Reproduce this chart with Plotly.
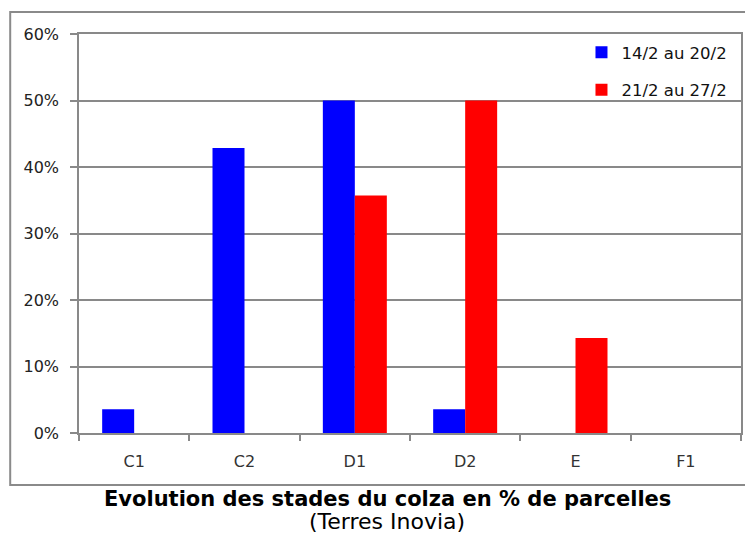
import plotly.graph_objects as go

# Stades du colza et part des parcelles (en fraction)
stades = ['C1', 'C2', 'D1', 'D2', 'E', 'F1']
semaine_1 = [0.0357, 0.4286, 0.50, 0.0357, 0.0, 0.0]   # 14/2 au 20/2
semaine_2 = [0.0, 0.0, 0.3571, 0.50, 0.1429, 0.0]      # 21/2 au 27/2
noms = ['14/2 au 20/2', '21/2 au 27/2']
couleurs = ['#0000FF', '#FF0000']

# the page body adds an 8px margin, so the figure is 8px smaller
OFF = 8
W, H = 753 - OFF, 535 - OFF
L, R, T, B = 71, 10, 26, 102
pw, ph = W - L - R, H - T - B

def px_x(x):
    return (x - OFF - L) / pw

def px_y(y):
    return (H - B - (y - OFF)) / ph

fig = go.Figure()
for i, vals in enumerate([semaine_1, semaine_2]):
    fig.add_trace(go.Bar(
        x=stades, y=vals, name=noms[i],
        marker_color=couleurs[i], marker_line_width=0,
        legendgroup=f'g{i}',
    ))

grid = '#898989'
fig.update_layout(
    width=W, height=H,
    margin=dict(l=L, r=R, t=T, b=B),
    paper_bgcolor='white', plot_bgcolor='white',
    font=dict(family='DejaVu Sans, Verdana, sans-serif', size=16, color='#222'),
    barmode='group', bargap=0.42, bargroupgap=0,
    showlegend=True,
    legend=dict(
        x=px_x(583), y=px_y(35), xanchor='left', yanchor='top',
        bgcolor='rgba(0,0,0,0)', font=dict(size=16.5, color='#111'),
        tracegroupgap=13, traceorder='grouped',
    ),
    xaxis=dict(
        type='category', tickson='boundaries', ticks='outside', ticklen=6,
        tickcolor=grid, tickwidth=1.5,
        showline=True, linecolor=grid, linewidth=1.5, mirror=True,
        showgrid=False, ticklabelstandoff=13,
        tickfont=dict(size=16, color='#333'),
    ),
    yaxis=dict(
        range=[0, 0.6], dtick=0.1, tickformat='.0%',
        ticks='outside', ticklen=7, tickcolor=grid, tickwidth=1.5,
        showline=True, linecolor=grid, linewidth=1.5, mirror=True,
        showgrid=True, gridcolor=grid, gridwidth=1.5, zeroline=False,
        ticklabelstandoff=8,
        tickfont=dict(size=16, color='#222'),
    ),
    shapes=[dict(
        type='rect', xref='paper', yref='paper',
        x0=px_x(10), x1=px_x(760), y0=px_y(485), y1=px_y(12),
        line=dict(color='#8a8a8a', width=2), fillcolor='rgba(0,0,0,0)',
        layer='below',
    )],
    annotations=[
        dict(text='<b>Evolution des stades du colza en % de parcelles</b>',
             xref='paper', yref='paper', x=px_x(388.5), y=px_y(499),
             xanchor='center', yanchor='middle', showarrow=False,
             font=dict(size=21, color='black')),
        dict(text='(Terres Inovia)',
             xref='paper', yref='paper', x=px_x(387.5), y=px_y(521),
             xanchor='center', yanchor='middle', showarrow=False,
             font=dict(size=22, color='black')),
    ],
)

fig.write_html('out.html')
